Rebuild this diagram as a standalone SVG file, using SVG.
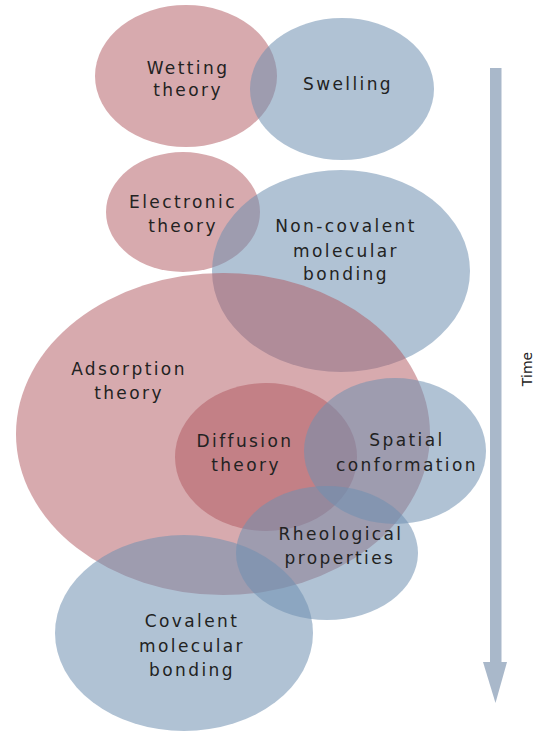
<svg xmlns="http://www.w3.org/2000/svg" width="548" height="734" viewBox="0 0 548 734">
<style>
.pink{fill:#b0555e;fill-opacity:0.5}
.blue{fill:#6f8fb0;fill-opacity:0.55}
.lbl{font-family:"DejaVu Sans",sans-serif;font-size:17px;letter-spacing:2.4px;fill:#222;text-anchor:middle}
.time{font-family:"DejaVu Sans",sans-serif;font-size:14px;fill:#222;text-anchor:middle}
</style>
<rect width="548" height="734" fill="#ffffff"/>
<g id="wetting"><ellipse class="pink" cx="186" cy="76" rx="91" ry="71"/></g>
<g id="swelling"><ellipse class="blue" cx="342" cy="89" rx="92" ry="71"/></g>
<g id="electronic"><ellipse class="pink" cx="183" cy="212" rx="77" ry="60"/></g>
<g id="noncovalent"><ellipse class="blue" cx="341" cy="271" rx="129" ry="101"/></g>
<g id="adsorption"><ellipse class="pink" cx="223" cy="434" rx="207" ry="161"/></g>
<g id="diffusion"><ellipse class="pink" cx="266" cy="457" rx="91" ry="74"/></g>
<g id="spatial"><ellipse class="blue" cx="395" cy="451" rx="91" ry="73"/></g>
<g id="rheological"><ellipse class="blue" cx="327" cy="553" rx="91" ry="67"/></g>
<g id="covalent"><ellipse class="blue" cx="184" cy="633" rx="129" ry="98"/></g>
<g id="labels">
<text class="lbl" x="188" y="74">Wetting</text>
<text class="lbl" x="188" y="96">theory</text>
<text class="lbl" x="348" y="90">Swelling</text>
<text class="lbl" x="183" y="208">Electronic</text>
<text class="lbl" x="183" y="232">theory</text>
<text class="lbl" x="346" y="232">Non-covalent</text>
<text class="lbl" x="346" y="257">molecular</text>
<text class="lbl" x="346" y="280">bonding</text>
<text class="lbl" x="129" y="375">Adsorption</text>
<text class="lbl" x="129" y="399">theory</text>
<text class="lbl" x="245" y="447">Diffusion</text>
<text class="lbl" x="246" y="471">theory</text>
<text class="lbl" x="407" y="446">Spatial</text>
<text class="lbl" x="407" y="471">conformation</text>
<text class="lbl" x="341" y="540">Rheological</text>
<text class="lbl" x="340" y="564">properties</text>
<text class="lbl" x="192" y="627">Covalent</text>
<text class="lbl" x="192" y="652">molecular</text>
<text class="lbl" x="192" y="676">bonding</text>
</g>
<g id="connectors">
<rect x="490" y="68" width="11.5" height="596" fill="#a9b8ca"/>
<polygon points="483,662 507,662 495.5,703" fill="#a9b8ca"/>
</g>
<g id="time"><text class="time" transform="translate(532,369) rotate(-90)">Time</text></g>
</svg>
